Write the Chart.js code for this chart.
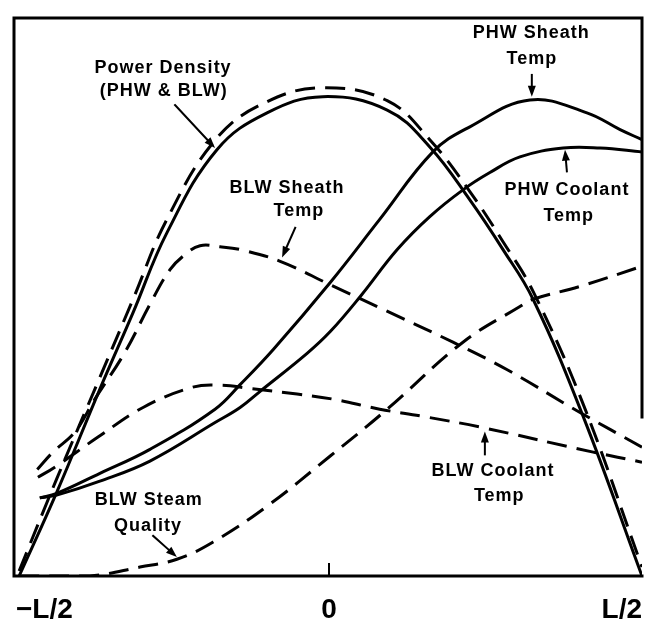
<!DOCTYPE html>
<html>
<head>
<meta charset="utf-8">
<script src="https://cdn.jsdelivr.net/npm/chart.js@4"></script>
<style>
  html, body { margin: 0; padding: 0; background: #fff; overflow: hidden; }
  #wrap { position: absolute; left: 0; top: 0; width: 646px; height: 636px; }
</style>
</head>
<body>
<div id="wrap"><canvas id="grafico"></canvas></div>
<script>
// Posición axial (-L/2 .. L/2) y valores relativos
const xPower   = [-0.495, -0.435, -0.366, -0.313, -0.259, -0.179, -0.099, -0.010, 0.093, 0.161, 0.225, 0.278, 0.326, 0.406, 0.5];
const powerPhw = [0, 15.0, 33.5, 47.2, 61.5, 76.4, 83.0, 85.9, 83.5, 76.9, 67.4, 58.5, 49.6, 28.6, 0];
const powerBlw = [0.9, 17.4, 35.6, 49.6, 63.9, 78.5, 85.0, 87.5, 85.2, 78.2, 68.9, 59.9, 51.0, 30.8, 1.6];

const xPhwSheath = [-0.462, -0.435, -0.366, -0.286, -0.182, -0.142, -0.089, 0.002, 0.081, 0.166, 0.225, 0.321, 0.412, 0.465, 0.5];
const phwSheath  = [14.0, 14.8, 18.4, 22.7, 29.9, 34.3, 40.6, 52.6, 63.9, 76.0, 80.5, 85.3, 83.0, 80.0, 78.2];

const xPhwCoolant = [-0.462, -0.435, -0.366, -0.286, -0.182, -0.142, -0.110, -0.035, 0.002, 0.050, 0.109, 0.161, 0.214, 0.257, 0.305, 0.374, 0.433, 0.5];
const phwCoolant  = [14.0, 14.5, 17.0, 20.6, 27.5, 30.2, 33.1, 39.9, 43.8, 50.1, 58.5, 64.4, 69.2, 72.3, 75.1, 76.7, 76.7, 76.0];

const xBlwSheath = [-0.466, -0.441, -0.406, -0.374, -0.326, -0.286, -0.254, -0.230, -0.206, -0.174, -0.142, -0.078, 0.002, 0.086, 0.198, 0.284, 0.401, 0.5];
const blwSheath  = [19.1, 22.2, 25.8, 31.7, 40.1, 48.7, 54.9, 57.6, 59.2, 59.0, 58.5, 56.4, 52.2, 47.8, 41.9, 37.0, 29.3, 23.1];

const xBlwCoolant = [-0.465, -0.438, -0.369, -0.297, -0.219, -0.174, -0.126, -0.051, 0.006, 0.081, 0.150, 0.241, 0.422, 0.5];
const blwCoolant  = [17.7, 19.5, 24.9, 30.2, 33.8, 34.2, 33.6, 32.6, 31.7, 29.9, 28.6, 26.7, 22.2, 20.4];

const xSteam   = [-0.495, -0.382, -0.302, -0.243, -0.185, -0.099, 0.002, 0.093, 0.214, 0.305, 0.326, 0.401, 0.5];
const blwSteam = [0, 0, 1.6, 3.0, 6.1, 12.5, 21.5, 29.9, 41.9, 48.3, 49.6, 51.9, 55.5];

const tickValues = [-0.5, 0, 0.5];
const tickLabels = ["\u2212L/2", "0", "L/2"];

// Rótulos y flechas (en unidades de datos)
const notes = [
    { text: "Power Density", x: -0.265, y: 91.1 },
    { text: "(PHW & BLW)", x: -0.264, y: 86.9 },
    { text: "BLW Sheath", x: -0.067, y: 69.6 },
    { text: "Temp", x: -0.048, y: 65.4 },
    { text: "PHW Sheath", x: 0.323, y: 97.3 },
    { text: "Temp", x: 0.324, y: 92.7 },
    { text: "PHW Coolant", x: 0.380, y: 69.2 },
    { text: "Temp", x: 0.383, y: 64.6 },
    { text: "BLW Coolant", x: 0.262, y: 18.8 },
    { text: "Temp", x: 0.272, y: 14.3 },
    { text: "BLW Steam", x: -0.288, y: 13.6 },
    { text: "Quality", x: -0.289, y: 8.9 }
];
const arrows = [
    { from: [-0.246, 84.4], to: [-0.182, 76.7] },
    { from: [-0.054, 62.4], to: [-0.075, 57.1] },
    { from: [0.324, 89.8], to: [0.324, 85.9] },
    { from: [0.380, 72.5], to: [0.377, 76.4] },
    { from: [0.249, 21.8], to: [0.249, 25.9] },
    { from: [-0.281, 7.2], to: [-0.243, 3.4] }
];

function puntos(xs, ys) {
    return xs.map((x, i) => ({ x: x, y: ys[i] }));
}

function serie(label, xs, ys, dashed) {
    return {
        label: label,
        data: puntos(xs, ys),
        borderColor: "#000",
        borderWidth: 3,
        borderDash: dashed ? [20, 10] : [],
        pointRadius: 0,
        fill: false,
        tension: 0.4
    };
}

const FONT = '"Liberation Sans", Arial, sans-serif';

// Marco, marca del 0, rótulos y flechas
const dibujoExtra = {
    id: "dibujoExtra",
    afterDraw(chart) {
        const ctx = chart.ctx;
        const a = chart.chartArea;
        const sx = chart.scales.x, sy = chart.scales.y;
        ctx.save();
        ctx.strokeStyle = "#000";
        ctx.lineWidth = 3;
        ctx.lineCap = "square";
        ctx.beginPath();
        ctx.moveTo(a.left - 2, a.bottom);
        ctx.lineTo(a.left - 2, a.top);
        ctx.lineTo(a.right, a.top);
        ctx.lineTo(a.right, sy.getPixelForValue(28.5));
        ctx.moveTo(a.left, a.bottom);
        ctx.lineTo(a.right, a.bottom);
        ctx.stroke();

        const x0 = sx.getPixelForValue(0);
        ctx.lineWidth = 2;
        ctx.beginPath();
        ctx.moveTo(x0, a.bottom);
        ctx.lineTo(x0, a.bottom - 12);
        ctx.stroke();

        ctx.fillStyle = "#000";
        ctx.font = "bold 18px " + FONT;
        ctx.letterSpacing = "1px";
        ctx.textAlign = "center";
        ctx.textBaseline = "middle";
        notes.forEach(n => {
            ctx.fillText(n.text, sx.getPixelForValue(n.x), sy.getPixelForValue(n.y));
        });
        ctx.letterSpacing = "0px";

        ctx.lineWidth = 2;
        arrows.forEach(f => {
            const x1 = sx.getPixelForValue(f.from[0]), y1 = sy.getPixelForValue(f.from[1]);
            const x2 = sx.getPixelForValue(f.to[0]), y2 = sy.getPixelForValue(f.to[1]);
            const ang = Math.atan2(y2 - y1, x2 - x1);
            const L = 11, W = 4;
            const bx = x2 - L * Math.cos(ang), by = y2 - L * Math.sin(ang);
            ctx.beginPath();
            ctx.moveTo(x1, y1);
            ctx.lineTo(bx, by);
            ctx.stroke();
            ctx.beginPath();
            ctx.moveTo(x2, y2);
            ctx.lineTo(bx + W * Math.sin(ang), by - W * Math.cos(ang));
            ctx.lineTo(bx - W * Math.sin(ang), by + W * Math.cos(ang));
            ctx.closePath();
            ctx.fill();
        });
        ctx.restore();
    }
};

document.addEventListener("DOMContentLoaded", () => {
    const grafico = document.getElementById("grafico");
    new Chart(grafico, {
        type: "line",
        data: {
            datasets: [
                serie("Power Density PHW", xPower, powerPhw, false),
                serie("Power Density BLW", xPower, powerBlw, true),
                serie("PHW Sheath Temp", xPhwSheath, phwSheath, false),
                serie("PHW Coolant Temp", xPhwCoolant, phwCoolant, false),
                serie("BLW Sheath Temp", xBlwSheath, blwSheath, true),
                serie("BLW Coolant Temp", xBlwCoolant, blwCoolant, true),
                serie("BLW Steam Quality", xSteam, blwSteam, true)
            ]
        },
        options: {
            responsive: true,
            maintainAspectRatio: false,
            animation: false,
            layout: { padding: { left: 16, right: 4, top: 18, bottom: 0 } },
            plugins: {
                legend: { display: false },
                tooltip: { enabled: false }
            },
            scales: {
                x: {
                    type: "linear",
                    min: -0.5,
                    max: 0.5,
                    afterBuildTicks: (scale) => {
                        scale.ticks = tickValues.map(v => ({ value: v }));
                    },
                    afterFit: (scale) => {
                        scale.paddingLeft = 0;
                        scale.paddingRight = 0;
                        scale.height = 60;
                    },
                    grid: { display: false, drawTicks: false },
                    border: { display: false },
                    ticks: {
                        color: "#000",
                        padding: 17,
                        align: "inner",
                        maxRotation: 0,
                        font: { family: FONT, size: 28, weight: "bold" },
                        callback: (v) => tickLabels[tickValues.indexOf(v)]
                    }
                },
                y: {
                    display: false,
                    min: 0,
                    max: 100
                }
            }
        },
        plugins: [dibujoExtra]
    });
});
</script>
</body>
</html>
